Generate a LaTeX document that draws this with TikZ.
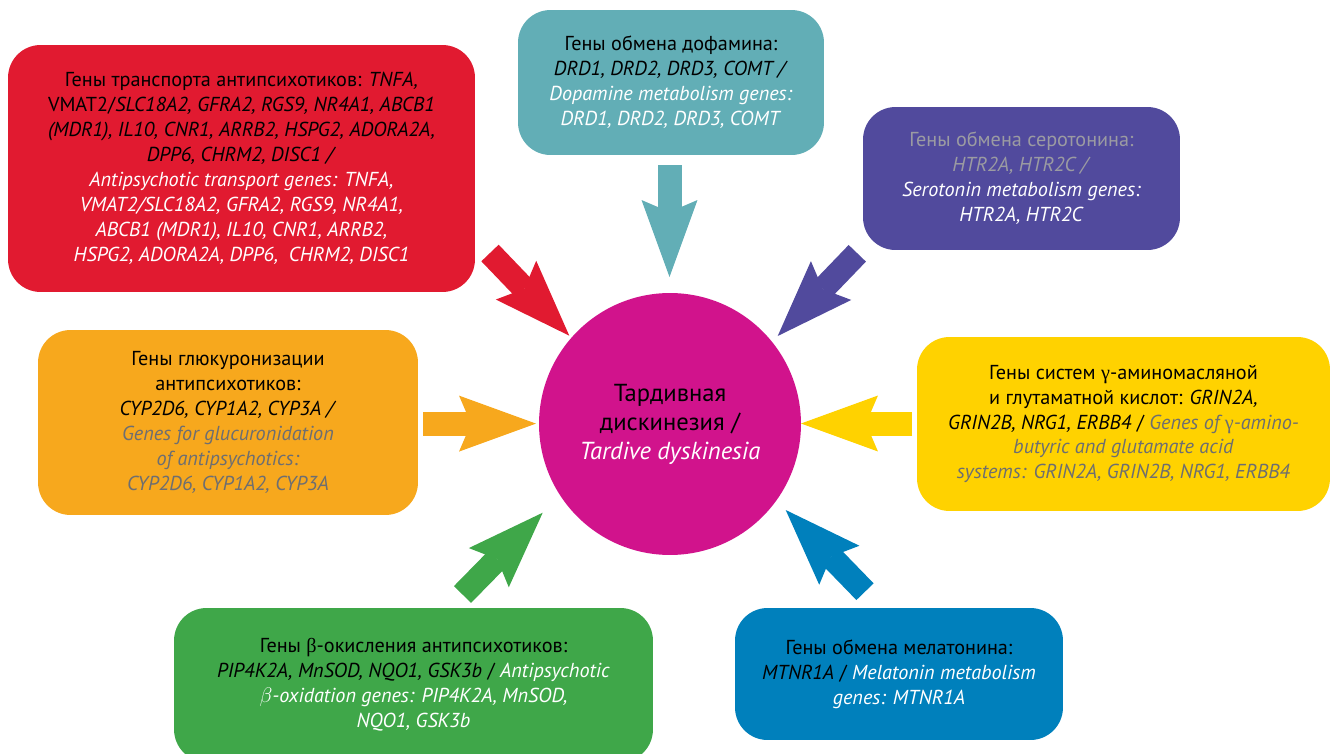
\documentclass[tikz,border=0pt]{standalone}
\usepackage{fontspec}
\setmainfont{PT Sans}
\newfontfamily\grk{Liberation Serif}
\usetikzlibrary{arrows.meta}
\definecolor{transred}{RGB}{225,26,48}
\definecolor{dopateal}{RGB}{98,174,182}
\definecolor{seropurple}{RGB}{81,74,157}
\definecolor{glucorange}{RGB}{247,168,29}
\definecolor{gabayellow}{RGB}{255,210,0}
\definecolor{betagreen}{RGB}{63,167,73}
\definecolor{melablue}{RGB}{0,128,188}
\definecolor{tdmagenta}{RGB}{209,19,140}
\definecolor{graytxt}{RGB}{109,110,113}
\definecolor{lightgraytxt}{RGB}{155,155,162}
\newcommand{\whiteit}[1]{\textcolor{white}{\textit{#1}}}
\newcommand{\grayit}[1]{\textcolor{graytxt}{\textit{#1}}}
\begin{document}
\begin{tikzpicture}[x=0.02cm,y=-0.02cm,
    box/.style={rounded corners=0.65cm, align=center, inner sep=0pt, font=\fontsize{11.5}{14.2}\selectfont},
    bigarrow/.style={draw=#1, line width=0.48cm, -{Stealth[length=1.54cm, width=1.12cm, inset=0.24cm, line width=0pt]}}]
  \useasboundingbox (0,0) rectangle (1330,754);
  % centre
  \node[circle, fill=tdmagenta, minimum size=5.24cm, inner sep=0pt, align=center, font=\fontsize{14}{16.5}\selectfont] (td) at (670,424)
    {Тардивная\\ дискинезия /\\ \whiteit{Tardive dyskinesia}};
  % gene groups
  \node[box, fill=transred, minimum width=9.34cm, minimum height=4.94cm] (trans) at (241.5,168.5)
    {Гены транспорта антипсихотиков: \textit{TNFA,}\\
     VMAT2/\textit{SLC18A2, GFRA2, RGS9, NR4A1, ABCB1}\\
     \textit{(MDR1), IL10, CNR1, ARRB2, HSPG2, ADORA2A,}\\
     \textit{DPP6, CHRM2, DISC1 /}\\
     \whiteit{Antipsychotic transport genes: TNFA,}\\
     \whiteit{VMAT2/SLC18A2, GFRA2, RGS9, NR4A1,}\\
     \whiteit{ABCB1 (MDR1), IL10, CNR1, ARRB2,}\\
     \whiteit{HSPG2, ADORA2A, DPP6, \ CHRM2, DISC1}};
  \node[box, fill=dopateal, minimum width=6.12cm, minimum height=2.9cm] (dopa) at (671,82.5)
    {Гены обмена дофамина:\\
     \textit{DRD1, DRD2, DRD3, COMT /}\\
     \whiteit{Dopamine metabolism genes:}\\
     \whiteit{DRD1, DRD2, DRD3, COMT}};
  \node[box, fill=seropurple, minimum width=6.34cm, minimum height=2.86cm] (sero) at (1021.5,178.5)
    {\textcolor{lightgraytxt}{Гены обмена серотонина:}\\
     \textcolor{lightgraytxt}{\textit{HTR2A, HTR2C /}}\\
     \whiteit{Serotonin metabolism genes:}\\
     \whiteit{HTR2A, HTR2C}};
  \node[box, fill=glucorange, minimum width=7.6cm, minimum height=3.7cm] (gluc) at (228,422.5)
    {Гены глюкуронизации\\
     антипсихотиков:\\
     \textit{CYP2D6, CYP1A2, CYP3A /}\\
     \grayit{Genes for glucuronidation}\\
     \grayit{of antipsychotics:}\\
     \grayit{CYP2D6, CYP1A2, CYP3A}};
  \node[box, fill=gabayellow, minimum width=8.26cm, minimum height=3.48cm] (gaba) at (1123.5,424)
    {Гены систем {\grk γ}-аминомасляной\\
     и глутаматной кислот: \textit{GRIN2A,}\\
     \textit{GRIN2B, NRG1, ERBB4} / \grayit{Genes of {\grk\upshape γ}-amino-}\\
     \grayit{butyric and glutamate acid}\\
     \grayit{systems: GRIN2A, GRIN2B, NRG1, ERBB4}};
  \node[box, fill=betagreen, minimum width=9.58cm, minimum height=3.08cm] (beta) at (413.5,685)
    {Гены {\grk β}-окисления антипсихотиков:\\
     \textit{PIP4K2A, MnSOD, NQO1, GSK3b} / \whiteit{Antipsychotic}\\
     \whiteit{$\beta$-oxidation genes: PIP4K2A, MnSOD,}\\
     \whiteit{NQO1, GSK3b}};
  \node[box, fill=melablue, minimum width=6.56cm, minimum height=2.64cm] (mela) at (899,674)
    {Гены обмена мелатонина:\\
     \textit{MTNR1A} / \whiteit{Melatonin metabolism}\\
     \whiteit{genes: MTNR1A}};
  % arrows
  \coordinate (transT) at (490,253);     \coordinate (transH) at (569.3,335.7);
  \coordinate (dopaT) at (669.5,165);    \coordinate (dopaH) at (669.5,277);
  \coordinate (seroT) at (857.3,253.3);  \coordinate (seroH) at (777.7,336);
  \coordinate (glucT) at (423.3,423.6);  \coordinate (glucH) at (536,423.6);
  \coordinate (gabaT) at (912.3,423.5);  \coordinate (gabaH) at (801,423.5);
  \coordinate (betaT) at (462.5,594.5);  \coordinate (betaH) at (542.7,512.7);
  \coordinate (melaT) at (865,591.7);    \coordinate (melaH) at (785.7,510);
  \draw[bigarrow=transred] (transT) -- (transH);
  \draw[bigarrow=dopateal] (dopaT) -- (dopaH);
  \draw[bigarrow=seropurple] (seroT) -- (seroH);
  \draw[bigarrow=glucorange] (glucT) -- (glucH);
  \draw[bigarrow=gabayellow] (gabaT) -- (gabaH);
  \draw[bigarrow=betagreen] (betaT) -- (betaH);
  \draw[bigarrow=melablue] (melaT) -- (melaH);
\end{tikzpicture}
\end{document}
